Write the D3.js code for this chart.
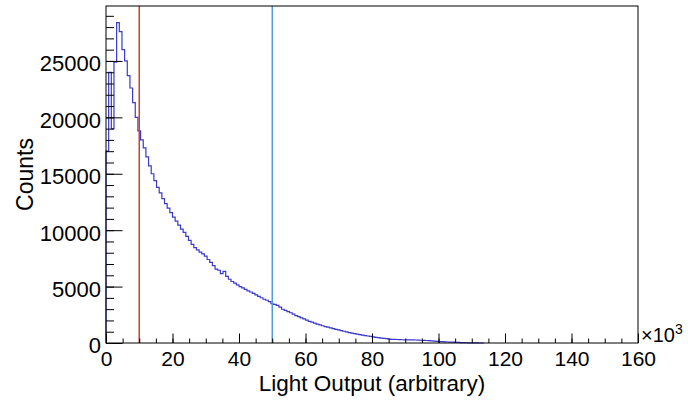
<!DOCTYPE html>
<html>
<head>
<meta charset="utf-8">
<script src="https://cdn.jsdelivr.net/npm/d3@7"></script>
<style>
  body { margin: 0; background: #fff; }
  text { font-family: "Liberation Sans", Arial, Helvetica, sans-serif; }
</style>
</head>
<body>
<svg id="lo-chart" width="688" height="400"></svg>
<script>
// Histogram contents: bins of 800 starting at 0 (bins past the end are empty)
const binWidth = 800;
const counts = [
  17000, 24000, 19000, 24900, 28400, 27600, 26000, 25000, 23700, 22600,
  21300, 20000, 18800, 18000, 17300, 16500, 15700, 15000, 14400, 13800,
  13300, 12800, 12350, 11950, 11550, 11150, 10800, 10450, 10100, 9800,
  9450, 9100, 8750, 8450, 8250, 8050, 7900, 7700, 7400, 7150,
  6850, 6550, 6450, 6150, 6350, 5900, 5650, 5450, 5300, 5150,
  5000, 4880, 4750, 4620, 4520, 4400, 4270, 4130, 4010, 3880,
  3790, 3660, 3480, 3420, 3330, 3180, 2990, 2900, 2780, 2680,
  2560, 2420, 2340, 2230, 2140, 2020, 1920, 1850, 1770, 1680,
  1600, 1530, 1460, 1400, 1340, 1270, 1210, 1160, 1100, 1040,
  980, 920, 880, 830, 790, 740, 700, 660, 620, 580,
  540, 500, 470, 440, 410, 380, 350, 330, 320, 310,
  300, 290, 285, 280, 275, 270, 265, 255, 245, 235,
  220, 205, 190, 170, 150, 130, 115, 100, 90, 80,
  70, 60, 50, 40, 30, 20, 12, 8, 5, 3, 2, 1
];

// Axis ranges and ticks
const xRange = [0, 160000];
const yRange = [0, 29870];
const xMajor = [0, 20000, 40000, 60000, 80000, 100000, 120000, 140000, 160000];
const yMajor = [0, 5000, 10000, 15000, 20000, 25000];

// Cut positions drawn as vertical lines
const cutValues = [10000, 50000];
const cutColors = ["#c8432b", "#4e9fd2"];

const svg = d3.select("#lo-chart");
const margin = { top: 6, right: 50, bottom: 57, left: 106 };
const width = +svg.attr("width") - margin.left - margin.right;
const height = +svg.attr("height") - margin.top - margin.bottom;

const g = svg.append("g")
  .attr("transform", `translate(${margin.left},${margin.top})`);

const x = d3.scaleLinear().domain(xRange).range([0, width]);
const y = d3.scaleLinear().domain(yRange).range([height, 0]);

// Histogram outline as a step line
const pts = counts.map((c, i) => [i * binWidth, c]);
pts.push([counts.length * binWidth, 0]);
pts.unshift([0, 0]);

const line = d3.line()
  .x(d => x(d[0]))
  .y(d => y(d[1]))
  .curve(d3.curveStepAfter);

g.append("path")
  .datum(pts)
  .attr("fill", "none")
  .attr("stroke", "#3a3acb")
  .attr("stroke-width", 1.2)
  .attr("d", line);

// Cut lines
g.selectAll(".cut")
  .data(cutValues)
  .enter()
  .append("line")
  .attr("class", "cut")
  .attr("x1", d => x(d))
  .attr("x2", d => x(d))
  .attr("y1", 0)
  .attr("y2", height)
  .attr("stroke", (d, i) => cutColors[i])
  .attr("stroke-width", 1.5);

// Ticks point into the frame, ROOT style
const xMinorTicks = d3.range(xRange[0], xRange[1] + 1, 5000);
const yMinorTicks = d3.range(yRange[0], yRange[1], 1000);

function styleAxis(sel) {
  sel.select(".domain").remove();
  sel.selectAll("line").attr("stroke", "#000");
  sel.selectAll("text").attr("fill", "#000").style("font-size", "21px");
}

g.append("g")
  .attr("transform", `translate(0,${height})`)
  .call(d3.axisBottom(x).tickValues(xMinorTicks).tickSize(-4.5).tickFormat(""))
  .call(styleAxis);

g.append("g")
  .attr("transform", `translate(0,${height})`)
  .call(d3.axisBottom(x).tickValues(xMajor).tickSize(-9.5).tickPadding(8)
    .tickFormat(d => d / 1000))
  .call(styleAxis);

g.append("g")
  .call(d3.axisLeft(y).tickValues(yMinorTicks).tickSize(-8).tickFormat(""))
  .call(styleAxis);

g.append("g")
  .call(d3.axisLeft(y).tickValues(yMajor).tickSize(-16.5).tickPadding(5)
    .tickFormat(d3.format("d")))
  .call(styleAxis)
  .selectAll("text")
  .style("font-size", "22px")
  .attr("dy", "0.45em");

// Frame
g.append("rect")
  .attr("width", width)
  .attr("height", height)
  .attr("fill", "none")
  .attr("stroke", "#000")
  .attr("stroke-width", 1);

// Axis titles
svg.append("text")
  .attr("x", margin.left + width / 2)
  .attr("y", 391)
  .attr("text-anchor", "middle")
  .style("font-size", "22.5px")
  .text("Light Output (arbitrary)");

svg.append("text")
  .attr("transform", `translate(33,${margin.top + height / 2}) rotate(-90)`)
  .attr("text-anchor", "middle")
  .style("font-size", "23px")
  .text("Counts");

// x10^3 exponent label
const expo = svg.append("text")
  .attr("x", margin.left + width + 3)
  .attr("y", 342)
  .style("font-size", "20px");
expo.append("tspan").text("×10");
expo.append("tspan")
  .attr("dy", -8)
  .style("font-size", "14px")
  .text("3");
</script>
</body>
</html>
